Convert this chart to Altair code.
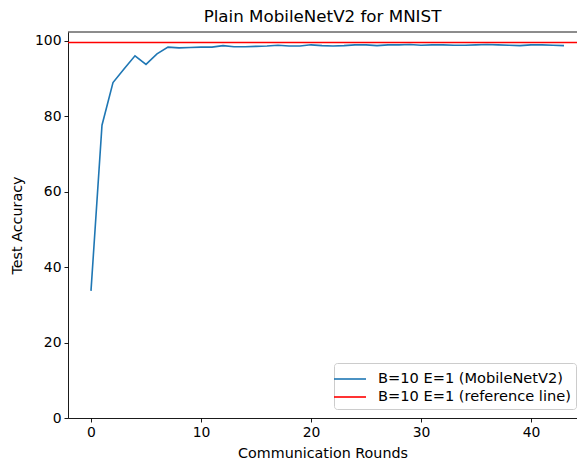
import altair as alt
import pandas as pd

rounds = list(range(44))
accuracy = [33.7, 77.6, 88.9, 92.5, 96.0, 93.7, 96.5, 98.3, 98.1, 98.2,
            98.3, 98.3, 98.7, 98.4, 98.4, 98.5, 98.6, 98.8, 98.6, 98.6,
            98.9, 98.7, 98.6, 98.7, 98.9, 98.9, 98.7, 98.9, 98.9, 99.0,
            98.8, 98.9, 98.9, 98.8, 98.8, 98.9, 99.0, 98.9, 98.8, 98.7,
            98.9, 98.9, 98.8, 98.7]
reference_value = 99.5
series_names = ["B=10 E=1 (MobileNetV2)", "B=10 E=1 (reference line)"]
series_colors = ["#1f77b4", "#ff0000"]

line_df = pd.DataFrame({"round": rounds, "acc": accuracy, "series": series_names[0]})
ref_df = pd.DataFrame({"acc": [reference_value], "series": [series_names[1]]})

FONT = "DejaVu Sans"
W, H = 509, 386

color = alt.Color(
    "series:N",
    scale=alt.Scale(domain=series_names, range=series_colors),
    legend=alt.Legend(
        title=None,
        orient="none",
        legendX=266,
        legendY=331,
        symbolType="M-1.6,0H1.6",
        symbolSize=400,
        symbolStrokeWidth=1.6,
        labelFont=FONT,
        labelFontSize=14.6,
        labelColor="#000",
        labelOffset=17,
        rowPadding=0,
        fillColor="white",
        strokeColor="#cccccc",
        cornerRadius=3,
        padding=5,
        labelLimit=300,
    ),
)

x = alt.X(
    "round:Q",
    scale=alt.Scale(domain=[-2.09, 44.18], nice=False, zero=False),
    axis=alt.Axis(values=[0, 10, 20, 30, 40], title="Communication Rounds",
                  grid=False),
)
y = alt.Y(
    "acc:Q",
    scale=alt.Scale(domain=[0, 102.3], nice=False),
    axis=alt.Axis(values=[0, 20, 40, 60, 80, 100], title="Test Accuracy",
                  grid=False),
)

line = alt.Chart(line_df).mark_line(strokeWidth=1.6).encode(x=x, y=y, color=color)
ref = alt.Chart(ref_df).mark_rule(strokeWidth=1.6).encode(y="acc:Q", color=color)
top = alt.Chart(ref_df).mark_rule(color="#000", strokeWidth=0.9).encode(
    x=alt.value(0), x2=alt.value(W), y=alt.value(0)
)

chart = (
    alt.layer(line, ref, top)
    .properties(
        width=W,
        height=H,
        title=alt.TitleParams("Plain MobileNetV2 for MNIST", font=FONT, fontSize=16.7,
                              fontWeight="normal", color="#000", offset=6),
        autosize=alt.AutoSizeParams(type="none"),
        padding={"left": 68, "top": 32, "right": 0, "bottom": 43},
    )
    .configure_view(stroke=None)
    .configure_axis(
        labelFont=FONT, labelFontSize=13.9, labelColor="#000",
        titleFont=FONT, titleFontSize=14.3, titleFontWeight="normal", titleColor="#000",
        domainColor="#000", domainWidth=0.9, tickColor="#000", tickWidth=0.9,
        tickSize=4, labelPadding=3,
    )
    .configure_axisX(titlePadding=8)
    .configure_axisY(titlePadding=10)
)

chart.save("out.html", embed_options={"renderer": "svg", "actions": False})
